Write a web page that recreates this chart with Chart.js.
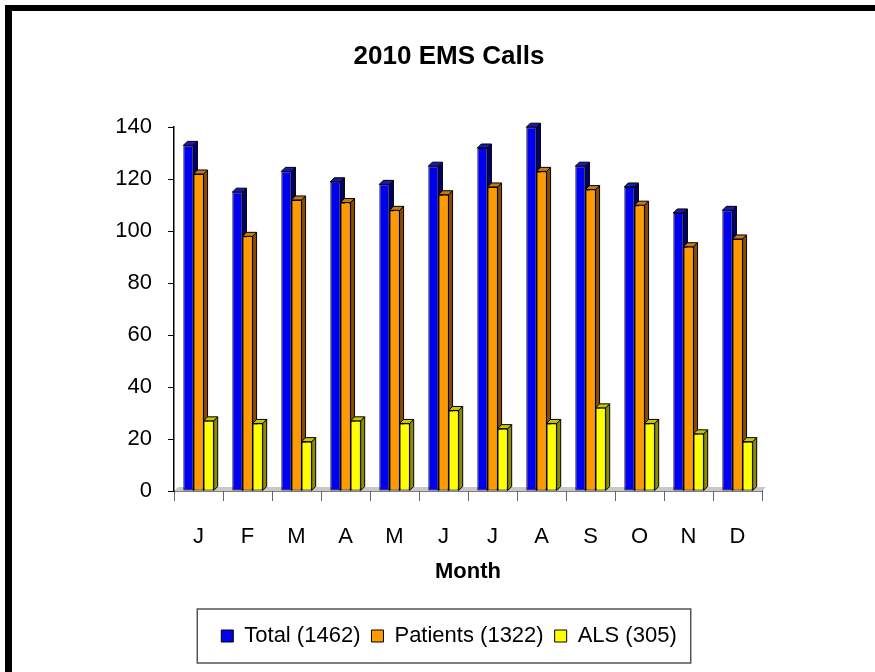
<!DOCTYPE html>
<html>
<head>
<meta charset="utf-8">
<script src="https://cdn.jsdelivr.net/npm/chart.js@4"></script>
<style>
  html, body { margin: 0; padding: 0; background: #fff; }
  #wrap { position: relative; width: 875px; height: 672px; }
  #frame {
    position: absolute; left: 5px; top: 5px; width: 864px; height: 664px;
    border-top: 6px solid #000; border-left: 7px solid #000;
    border-right: 1px solid #ddd; border-bottom: 2px solid #ccc;
    pointer-events: none;
  }
</style>
</head>
<body>
<div id="wrap">
  <canvas id="chart" width="875" height="672"></canvas>
  <div id="frame"></div>
</div>
<script>
const months = ["J", "F", "M", "A", "M", "J", "J", "A", "S", "O", "N", "D"];
const totalCalls = [133, 115, 123, 119, 118, 125, 132, 140, 125, 117, 107, 108];
const patients = [122, 98, 112, 111, 108, 114, 117, 123, 116, 110, 94, 97];
const alsCalls = [27, 26, 19, 27, 26, 31, 24, 26, 32, 26, 22, 19];
const yTicks = [0, 20, 40, 60, 80, 100, 120, 140];

const DEPTH = 4;
const FONT = "'Liberation Sans', Arial, sans-serif";

// side / top colours for the fake 3D look
const shades = [
  { side: "#00006e", top: "#1a1ab0" },
  { side: "#8a4a00", top: "#c87a10" },
  { side: "#8c8c00", top: "#c8c800" },
];

// grey floor under the bars
const floorPlugin = {
  id: "floor",
  beforeDatasetsDraw(chart) {
    const a = chart.chartArea;
    const ctx = chart.ctx;
    ctx.save();
    ctx.fillStyle = "#c8c8c8";
    ctx.beginPath();
    ctx.moveTo(a.left, a.bottom);
    ctx.lineTo(a.left + DEPTH, a.bottom - DEPTH);
    ctx.lineTo(a.right + DEPTH, a.bottom - DEPTH);
    ctx.lineTo(a.right, a.bottom);
    ctx.closePath();
    ctx.fill();
    ctx.restore();
  },
};

function drawDepth(ctx, bar, sh) {
  const p = bar.getProps(["x", "y", "base", "width"], true);
  const l = p.x - p.width / 2;
  const r = p.x + p.width / 2;
  ctx.fillStyle = sh.side;
  ctx.beginPath();
  ctx.moveTo(r, p.y);
  ctx.lineTo(r + DEPTH, p.y - DEPTH);
  ctx.lineTo(r + DEPTH, p.base - DEPTH);
  ctx.lineTo(r, p.base);
  ctx.closePath();
  ctx.fill();
  ctx.stroke();
  ctx.fillStyle = sh.top;
  ctx.beginPath();
  ctx.moveTo(l, p.y);
  ctx.lineTo(l + DEPTH, p.y - DEPTH);
  ctx.lineTo(r + DEPTH, p.y - DEPTH);
  ctx.lineTo(r, p.y);
  ctx.closePath();
  ctx.fill();
  ctx.stroke();
}

// draw the bars ourselves, first dataset first, so later fronts cover earlier sides
const bars3dPlugin = {
  id: "bars3d",
  beforeDatasetDraw() {
    return false;
  },
  afterDatasetsDraw(chart) {
    const ctx = chart.ctx;
    chart.data.datasets.forEach((ds, i) => {
      const meta = chart.getDatasetMeta(i);
      ctx.save();
      ctx.lineWidth = 1;
      ctx.strokeStyle = "#000";
      meta.data.forEach((bar) => drawDepth(ctx, bar, shades[i]));
      ctx.restore();
      meta.data.forEach((bar) => bar.draw(ctx));
    });
  },
};

// box round the legend
const legendBoxPlugin = {
  id: "legendBox",
  afterDraw(chart) {
    const boxes = chart.legend.legendHitBoxes;
    if (!boxes || !boxes.length) return;
    const left = boxes[0].left - 24;
    const last = boxes[boxes.length - 1];
    const right = last.left + last.width + 14;
    const top = boxes[0].top - 16;
    const bottom = boxes[0].top + boxes[0].height + 16;
    const ctx = chart.ctx;
    ctx.save();
    ctx.strokeStyle = "#555";
    ctx.lineWidth = 1.5;
    ctx.strokeRect(left, top, right - left, bottom - top);
    ctx.restore();
  },
};

Chart.defaults.font.family = FONT;
Chart.defaults.color = "#000";

new Chart(document.getElementById("chart"), {
  type: "bar",
  data: {
    labels: months,
    datasets: [
      { label: "Total (1462)", data: totalCalls, backgroundColor: "#0000f0" },
      { label: "Patients (1322)", data: patients, backgroundColor: "#ff9900" },
      { label: "ALS (305)", data: alsCalls, backgroundColor: "#ffff00" },
    ],
  },
  options: {
    responsive: false,
    animation: false,
    layout: { padding: { left: 23, right: 0, top: 0, bottom: 15 } },
    datasets: {
      bar: {
        categoryPercentage: 0.62,
        barPercentage: 1,
        borderColor: "#000",
        borderWidth: 1,
        borderSkipped: false,
      },
    },
    plugins: {
      title: {
        display: true,
        text: "2010 EMS Calls",
        font: { size: 26, weight: "bold" },
        padding: { top: 41, bottom: 55 },
      },
      legend: {
        position: "bottom",
        align: "center",
        labels: {
          font: { size: 22 },
          boxWidth: 12,
          boxHeight: 12,
          padding: 11,
          color: "#000",
          generateLabels(chart) {
            return chart.data.datasets.map((ds, i) => ({
              text: ds.label,
              fillStyle: ds.backgroundColor,
              strokeStyle: "#000",
              lineWidth: 1,
              datasetIndex: i,
            }));
          },
        },
      },
      tooltip: { enabled: false },
    },
    scales: {
      x: {
        afterFit(scale) { scale.height = 123; },
        grid: {
          display: true,
          drawOnChartArea: false,
          offset: true,
          tickLength: 10,
          color: "#666",
        },
        border: { display: true, color: "#000", width: 1.5 },
        ticks: { font: { size: 22 }, padding: 23, color: "#000" },
        title: {
          display: true,
          text: "Month",
          font: { size: 22, weight: "bold" },
          padding: { top: 0, bottom: 29 },
        },
      },
      y: {
        min: 0,
        max: 140,
        afterFit(scale) { scale.width = 151; },
        afterBuildTicks(scale) { scale.ticks = yTicks.map((v) => ({ value: v })); },
        grid: {
          display: true,
          drawOnChartArea: false,
          tickLength: 6,
          color: "#000",
        },
        border: { display: true, color: "#000", width: 1.5 },
        ticks: { font: { size: 22 }, padding: 16, color: "#000" },
      },
      // empty right-hand margin
      yRight: {
        type: "linear",
        axis: "y",
        position: "right",
        afterFit(scale) { scale.width = 113; },
        grid: { display: false },
        border: { display: false },
        ticks: { display: false },
      },
    },
  },
  plugins: [floorPlugin, bars3dPlugin, legendBoxPlugin],
});
</script>
</body>
</html>
